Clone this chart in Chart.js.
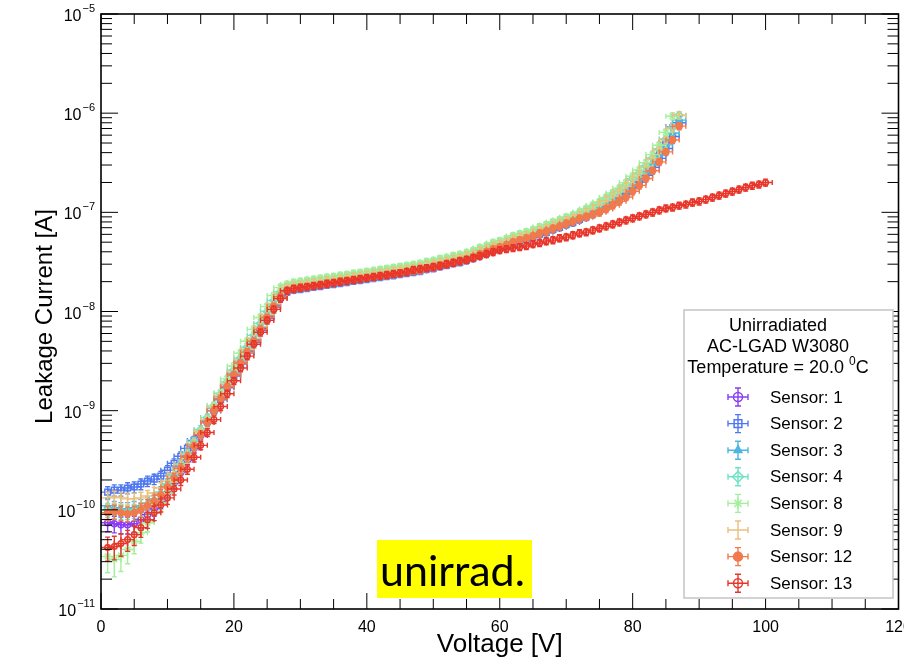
<!DOCTYPE html>
<html>
<head>
<meta charset="utf-8">
<title>AC-LGAD W3080 leakage current</title>
<script src="https://cdn.jsdelivr.net/npm/chart.js@4.4.1/dist/chart.umd.min.js"></script>
<style>
  html, body { margin: 0; padding: 0; background: #fff; }
  #wrap { width: 904px; height: 660px; }
</style>
</head>
<body>
<div id="wrap"><canvas id="iv" width="904" height="660"></canvas></div>
<script>
// Bias voltage steps [V]
const voltages = [
  1, 2, 3, 4, 5, 6, 7, 8, 9, 10, 11, 12, 13, 14, 15, 16, 17, 18, 19, 20,
  21, 22, 23, 24, 25, 26, 27, 28, 29, 30, 31, 32, 33, 34, 35, 36, 37, 38, 39, 40,
  41, 42, 43, 44, 45, 46, 47, 48, 49, 50, 51, 52, 53, 54, 55, 56, 57, 58, 59, 60,
  61, 62, 63, 64, 65, 66, 67, 68, 69, 70, 71, 72, 73, 74, 75, 76, 77, 78, 79, 80,
  81, 82, 83, 84, 85, 86, 87, 88, 89, 90, 91, 92, 93, 94, 95, 96, 97, 98, 99, 100
];

// Leakage current [nA] per sensor, one entry per voltage step
const sensor1 = [
  0.0741, 0.0724, 0.0708, 0.0708, 0.0724, 0.0794, 0.0891, 0.102, 0.120, 0.148,
  0.186, 0.240, 0.316, 0.417, 0.562, 0.759, 1.00, 1.32, 1.74, 2.29,
  3.02, 3.98, 5.13, 6.76, 8.91, 11.5, 14.5,
  16.7, 17.4, 17.8, 18.2, 18.7, 19.1, 19.6, 20.0, 20.5, 21.0, 21.5, 22.0, 22.4,
  22.9, 23.5, 24.0, 24.6, 25.2, 25.8, 26.4, 27.0, 28.2, 28.9, 30.3, 31.0, 32.4,
  33.2, 34.8, 36.5, 39.0, 40.9, 43.8, 45.9, 48.0, 51.5, 53.9, 56.4, 59.1, 63.3,
  66.3, 71.0, 74.4, 79.7, 83.4, 89.4,
  92.8, 99.8, 106, 117, 128, 141, 158, 181, 210, 250, 305, 385, 505, 730
];
const sensor2 = [
  0.151, 0.158, 0.158, 0.166, 0.170, 0.182, 0.195, 0.204, 0.219, 0.251,
  0.295, 0.347, 0.417, 0.501, 0.617, 0.776, 1.00, 1.29, 1.70, 2.24,
  2.95, 3.80, 4.90, 6.46, 8.51, 11.0, 13.8,
  15.8, 16.6, 16.9, 17.3, 17.8, 18.1, 18.6, 19.0, 19.4, 19.9, 20.4, 20.8, 21.3,
  21.8, 22.3, 22.8, 23.3, 23.9, 24.5, 25.0, 25.6, 26.8, 27.4, 28.7, 29.4, 30.8,
  31.5, 33.0, 34.6, 37.0, 38.8, 41.6, 43.5, 45.6, 48.8, 51.2, 53.5, 56.1, 60.1,
  62.9, 67.3, 70.6, 75.6, 79.1, 84.8,
  89.9, 96.6, 103, 113, 124, 136, 153, 176, 201, 236, 284, 350, 441, 581, 800
];
const sensor3 = [
  0.110, 0.105, 0.102, 0.102, 0.105, 0.110, 0.117, 0.129, 0.151, 0.182,
  0.224, 0.282, 0.355, 0.457, 0.603, 0.794, 1.05, 1.38, 1.82, 2.40,
  3.16, 4.07, 5.25, 6.92, 9.12, 11.7, 14.8,
  17.0, 17.8, 18.2, 18.6, 19.1, 19.5, 20.0, 20.4, 20.9, 21.4, 21.9, 22.4, 22.9,
  23.4, 24.0, 24.5, 25.1, 25.7, 26.3, 26.9, 27.5, 28.8, 29.5, 30.9, 31.6, 33.1,
  33.9, 35.5, 37.2, 39.8, 41.7, 44.7, 46.8, 49.0, 52.5, 55.0, 57.5, 60.3, 64.6,
  67.6, 72.4, 75.9, 81.3, 85.1, 91.2,
  97.7, 105, 112, 123, 135, 148, 166, 191, 219, 257, 309, 380, 479, 631, 851
];
const sensor4 = [
  0.100, 0.0977, 0.0955, 0.0955, 0.0977, 0.102, 0.110, 0.123, 0.145, 0.178,
  0.224, 0.288, 0.372, 0.490, 0.646, 0.851, 1.12, 1.48, 1.95, 2.57,
  3.39, 4.37, 5.75, 7.59, 10.0, 12.9, 15.8,
  18.4, 19.2, 19.7, 20.1, 20.6, 21.1, 21.6, 22.0, 22.6, 23.1, 23.7, 24.2, 24.7,
  25.3, 25.9, 26.5, 27.1, 27.8, 28.4, 29.1, 29.7, 31.1, 31.9, 33.4, 34.1, 35.7,
  36.6, 38.3, 40.2, 43.0, 45.0, 48.3, 50.5, 52.9, 56.7, 59.4, 62.1, 65.1, 69.8,
  73.0, 78.2, 82.0, 87.8, 91.9, 98.5,
  107, 115, 124, 137, 151, 167, 189, 218, 250, 294, 353, 435, 549, 724, 950
];
const sensor8 = [
  0.0339, 0.0316, 0.0347, 0.0398, 0.0479, 0.0589, 0.0741, 0.0933, 0.117, 0.148,
  0.191, 0.251, 0.331, 0.447, 0.603, 0.813, 1.12, 1.51, 2.09, 2.82,
  3.80, 5.01, 6.61, 8.71, 11.2, 14.5, 17.4,
  18.7, 19.6, 20.0, 20.5, 21.0, 21.5, 22.0, 22.4, 23.0, 23.5, 24.1, 24.6, 25.2,
  25.7, 26.4, 27.0, 27.6, 28.3, 28.9, 29.6, 30.3, 31.7, 32.5, 34.0, 34.8, 36.4,
  37.3, 39.1, 40.9, 43.8, 45.9, 49.2, 51.5, 53.9, 57.8, 60.5, 63.3, 66.3, 71.1,
  74.4, 79.6, 83.5, 89.4, 93.6, 100,
  108, 117, 127, 141, 157, 175, 199, 231, 267, 316, 382, 475, 640, 930
];
const sensor9 = [
  0.132, 0.135, 0.132, 0.129, 0.129, 0.132, 0.138, 0.148, 0.166, 0.195,
  0.234, 0.288, 0.363, 0.468, 0.617, 0.813, 1.07, 1.41, 1.86, 2.45,
  3.24, 4.17, 5.37, 7.08, 9.33, 12.0, 15.1,
  17.5, 18.3, 18.7, 19.2, 19.7, 20.1, 20.6, 21.0, 21.5, 22.0, 22.6, 23.1, 23.6,
  24.1, 24.7, 25.2, 25.9, 26.5, 27.1, 27.7, 28.3, 29.7, 30.4, 31.8, 32.5, 34.1,
  34.9, 36.6, 38.3, 41.0, 43.0, 46.0, 48.2, 50.5, 54.1, 56.7, 59.2, 62.1, 66.5,
  69.6, 74.6, 78.2, 83.7, 87.7, 93.9,
  101, 109, 118, 131, 145, 161, 182, 211, 243, 286, 345, 425, 536, 707, 953
];
const sensor12 = [
  0.0933, 0.0955, 0.0933, 0.0912, 0.0933, 0.100, 0.110, 0.123, 0.141, 0.170,
  0.209, 0.263, 0.339, 0.437, 0.575, 0.759, 1.00, 1.32, 1.74, 2.29,
  3.02, 3.89, 5.01, 6.61, 8.71, 11.2, 14.1,
  16.2, 16.9, 17.3, 17.7, 18.1, 18.5, 19.0, 19.4, 19.9, 20.3, 20.8, 21.3, 21.8,
  22.2, 22.8, 23.3, 23.8, 24.4, 25.0, 25.6, 26.1, 27.4, 28.0, 29.4, 30.0, 31.4,
  32.2, 33.7, 35.3, 37.8, 39.6, 42.5, 44.5, 46.6, 49.9, 52.3, 54.6, 57.3, 61.4,
  64.2, 68.8, 72.1, 77.2, 80.8, 86.6,
  90.0, 95.0, 100, 108, 118, 129, 143, 163, 187, 219, 263, 323, 407, 536, 740
];
const sensor13 = [
  0.0417, 0.0427, 0.0457, 0.0501, 0.0562, 0.0661, 0.0794, 0.0933, 0.112, 0.132,
  0.162, 0.200, 0.257, 0.339, 0.447, 0.603, 0.813, 1.10, 1.48, 2.00,
  2.69, 3.55, 4.68, 6.17, 8.13, 10.5, 13.5, 16.2, 17.0, 17.4,
  17.8, 18.2, 18.6, 19.1, 19.5, 20.0, 20.4, 20.9, 21.4, 21.9,
  22.4, 22.9, 23.4, 24.0, 24.5, 25.1, 26.3, 26.9, 27.5, 28.2,
  28.8, 30.2, 30.9, 32.4, 33.1, 34.7, 36.3, 38.0, 39.8, 41.7,
  42.7, 43.7, 44.7, 45.7, 47.9, 49.0, 51.3, 52.5, 55.0, 56.2,
  58.9, 61.7, 63.1, 66.1, 69.2, 72.4, 75.9, 79.4, 83.2, 87.1,
  91.2, 95.5, 100, 105, 110, 112, 117, 120, 126, 129,
  135, 141, 148, 155, 162, 170, 178, 186, 191, 200
];

const sensorNames = ['Sensor: 1', 'Sensor: 2', 'Sensor: 3', 'Sensor: 4', 'Sensor: 8', 'Sensor: 9', 'Sensor: 12', 'Sensor: 13'];
const sensorCurrents = [sensor1, sensor2, sensor3, sensor4, sensor8, sensor9, sensor12, sensor13];

const legendHeader = ['Unirradiated', 'AC-LGAD W3080'];
const temperatureText = ['Temperature = 20.0 ', '0', 'C'];
const stampText = 'unirrad.';

const xTitle = 'Voltage [V]';
const yTitle = 'Leakage Current [A]';
const xMajorTicks = [0, 20, 40, 60, 80, 100, 120];
const xMinorTicks = [5, 10, 15, 25, 30, 35, 45, 50, 55, 65, 70, 75, 85, 90, 95, 105, 110, 115];
const yDecades = [-11, -10, -9, -8, -7, -6, -5];
const yMinorFactors = [2, 3, 4, 5, 6, 7, 8, 9];

// measurement uncertainties used for the error bars
const VOLT_ERR = 1;
const REL_ERR = 0.08;
const ABS_ERR = 8e-12;

// marker look per sensor (ROOT-like open / filled markers)
const sensorColors = ['#8a3df5', '#4f78f0', '#4db5e0', '#6fe3c6', '#a3f09b', '#e9c07e', '#f07a4c', '#e8362a'];
const markerStyles = [
  { style: 'circle', radius: 3, legendRadius: 4.5, filled: false },
  { style: 'rect', radius: 4, legendRadius: 5.5, filled: false },
  { style: 'triangle', radius: 3.5, legendRadius: 4.5, filled: true },
  { style: 'rectRot', radius: 4, legendRadius: 5.5, filled: false },
  { style: 'star', radius: 4, legendRadius: 5, filled: false },
  { style: 'circle', radius: 0, legendRadius: 0, filled: false },
  { style: 'circle', radius: 3, legendRadius: 4.5, filled: true },
  { style: 'circle', radius: 2.8, legendRadius: 4.5, filled: false }
];

const FONT = '"Liberation Sans", Arial, Helvetica, sans-serif';

const datasets = sensorCurrents.map((cur, i) => ({
  label: sensorNames[i],
  data: cur.map((nA, k) => ({ x: voltages[k], y: nA * 1e-9 })),
  showLine: false,
  pointStyle: markerStyles[i].style,
  pointRadius: markerStyles[i].radius,
  pointHoverRadius: markerStyles[i].radius,
  pointBorderWidth: 1.5,
  borderColor: sensorColors[i],
  backgroundColor: markerStyles[i].filled ? sensorColors[i] : 'rgba(0,0,0,0)',
  order: sensorCurrents.length - i
}));

// cross with end caps, like TGraphErrors
function drawErrorCross(ctx, cx, x0, x1, cy, y0, y1, cap) {
  ctx.beginPath();
  ctx.moveTo(x0, cy); ctx.lineTo(x1, cy);
  ctx.moveTo(cx, y0); ctx.lineTo(cx, y1);
  ctx.moveTo(x0, cy - cap); ctx.lineTo(x0, cy + cap);
  ctx.moveTo(x1, cy - cap); ctx.lineTo(x1, cy + cap);
  ctx.moveTo(cx - cap, y0); ctx.lineTo(cx + cap, y0);
  ctx.moveTo(cx - cap, y1); ctx.lineTo(cx + cap, y1);
  ctx.stroke();
}

const errorBars = {
  id: 'errorBars',
  beforeDatasetDraw(chart, args) {
    const { ctx, chartArea: a, scales: { x, y } } = chart;
    const ds = chart.data.datasets[args.index];
    ctx.save();
    ctx.beginPath();
    ctx.rect(a.left, a.top, a.right - a.left, a.bottom - a.top);
    ctx.clip();
    ctx.strokeStyle = ds.borderColor;
    ctx.lineWidth = 1.4;
    ds.data.forEach(p => {
      const err = p.y * REL_ERR + ABS_ERR;
      drawErrorCross(ctx,
        x.getPixelForValue(p.x), x.getPixelForValue(p.x - VOLT_ERR), x.getPixelForValue(p.x + VOLT_ERR),
        y.getPixelForValue(p.y), y.getPixelForValue(p.y + err), y.getPixelForValue(Math.max(p.y - err, 1e-12)),
        2.5);
    });
    ctx.restore();
  }
};

const frame = {
  id: 'rootFrame',
  afterDatasetsDraw(chart) {
    const { ctx, chartArea: a, scales: { x, y } } = chart;
    ctx.save();

    // axis ticks on all four sides
    ctx.strokeStyle = '#000';
    ctx.lineWidth = 1;
    ctx.beginPath();
    const xTick = (v, len) => {
      const px = x.getPixelForValue(v);
      ctx.moveTo(px, a.bottom); ctx.lineTo(px, a.bottom - len);
      ctx.moveTo(px, a.top); ctx.lineTo(px, a.top + len);
    };
    const yTick = (v, len) => {
      const py = y.getPixelForValue(v);
      ctx.moveTo(a.left, py); ctx.lineTo(a.left + len, py);
      ctx.moveTo(a.right, py); ctx.lineTo(a.right - len, py);
    };
    xMajorTicks.forEach(v => xTick(v, 16));
    xMinorTicks.forEach(v => xTick(v, 10));
    yDecades.forEach(e => {
      yTick(Math.pow(10, e), 17);
      if (e < -5) yMinorFactors.forEach(f => yTick(f * Math.pow(10, e), 11));
    });
    ctx.stroke();

    ctx.lineWidth = 1.6;
    ctx.strokeRect(a.left, a.top, a.right - a.left, a.bottom - a.top);

    // tick labels
    ctx.fillStyle = '#000';
    ctx.font = '16px ' + FONT;
    ctx.textAlign = 'center';
    ctx.textBaseline = 'alphabetic';
    xMajorTicks.forEach(v => ctx.fillText(String(v), x.getPixelForValue(v), a.bottom + 23));

    yDecades.forEach(e => {
      const py = y.getPixelForValue(Math.pow(10, e));
      const expo = '\u2212' + Math.abs(e);
      ctx.font = '11px ' + FONT;
      const we = ctx.measureText(expo).width;
      ctx.textAlign = 'right';
      ctx.fillText(expo, a.left - 6, py - 2);
      ctx.font = '16px ' + FONT;
      ctx.fillText('10', a.left - 7 - we, py + 7);
    });

    // axis titles
    ctx.textAlign = 'center';
    ctx.font = '26px ' + FONT;
    ctx.fillText(xTitle, (a.left + a.right) / 2, 652);
    ctx.save();
    ctx.translate(52, (a.top + a.bottom) / 2 + 5);
    ctx.rotate(-Math.PI / 2);
    ctx.font = '24px ' + FONT;
    ctx.fillText(yTitle, 0, 0);
    ctx.restore();

    drawLegend(chart);
    drawStamp(ctx);
    ctx.restore();
  }
};

function drawLegend(chart) {
  const ctx = chart.ctx;
  const box = { left: 684, top: 310, right: 893, bottom: 598 };
  ctx.save();
  ctx.fillStyle = '#fff';
  ctx.fillRect(box.left, box.top, box.right - box.left, box.bottom - box.top);
  ctx.strokeStyle = '#c4c4c4';
  ctx.lineWidth = 1.5;
  ctx.strokeRect(box.left, box.top, box.right - box.left, box.bottom - box.top);

  const cx = 778;
  ctx.fillStyle = '#000';
  ctx.textAlign = 'center';
  ctx.textBaseline = 'middle';
  ctx.font = '18px ' + FONT;
  legendHeader.forEach((t, i) => ctx.fillText(t, cx, 326 + i * 21));

  // temperature line with superscript degree zero
  const [t0, tSup, tUnit] = temperatureText;
  ctx.font = '18px ' + FONT;
  const w0 = ctx.measureText(t0).width;
  const wU = ctx.measureText(tUnit).width;
  ctx.font = '12px ' + FONT;
  const wS = ctx.measureText(tSup).width;
  let tx = cx - (w0 + wS + wU) / 2;
  ctx.textAlign = 'left';
  ctx.font = '18px ' + FONT;
  ctx.fillText(t0, tx, 368);
  ctx.font = '12px ' + FONT;
  ctx.fillText(tSup, tx + w0, 362);
  ctx.font = '18px ' + FONT;
  ctx.fillText(tUnit, tx + w0 + wS, 368);

  // one row per sensor
  ctx.font = '17px ' + FONT;
  chart.data.datasets.forEach((ds, i) => {
    const ry = 397 + i * 26.6;
    const mx = 738;
    const r = markerStyles[i].legendRadius;
    ctx.strokeStyle = ds.borderColor;
    ctx.lineWidth = 1.4;
    drawErrorCross(ctx, mx, mx - 10, mx + 10, ry, ry - 9, ry + 9, 3);
    if (r > 0) {
      ctx.fillStyle = ds.backgroundColor;
      ctx.lineWidth = 1.5;
      Chart.helpers.drawPoint(ctx, { pointStyle: ds.pointStyle, radius: r, borderWidth: 1.5, rotation: 0 }, mx, ry);
    }
    ctx.fillStyle = '#000';
    ctx.fillText(ds.label, 770, ry + 1);
  });
  ctx.restore();
}

function drawStamp(ctx) {
  ctx.save();
  ctx.fillStyle = '#ffff00';
  ctx.fillRect(377, 540, 155, 58);
  ctx.fillStyle = '#000';
  ctx.font = '43px Lato, "Open Sans", sans-serif';
  ctx.textAlign = 'left';
  ctx.textBaseline = 'alphabetic';
  ctx.fillText(stampText, 380, 586);
  ctx.restore();
}

new Chart(document.getElementById('iv'), {
  type: 'scatter',
  data: { datasets },
  options: {
    responsive: false,
    animation: false,
    devicePixelRatio: 1,
    layout: { padding: { left: 101, right: 4, top: 14, bottom: 51 } },
    scales: {
      x: { type: 'linear', min: 0, max: 120, display: false },
      y: { type: 'logarithmic', min: 1e-11, max: 1e-5, display: false }
    },
    plugins: {
      legend: { display: false },
      tooltip: { enabled: false }
    }
  },
  plugins: [errorBars, frame]
});
</script>
</body>
</html>
